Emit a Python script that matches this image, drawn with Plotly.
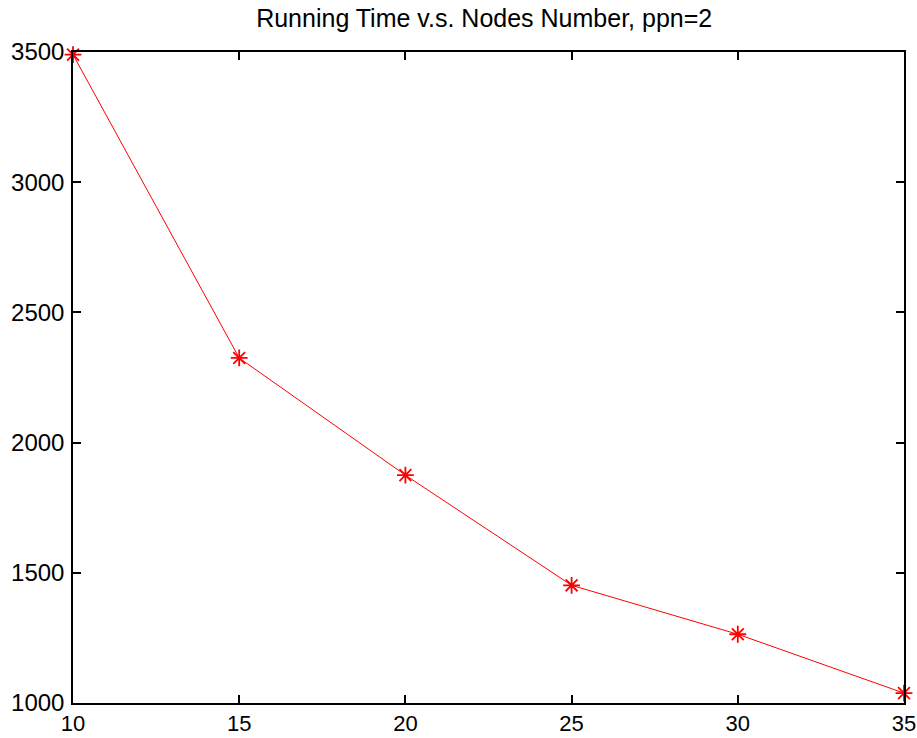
import plotly.graph_objects as go

nodes = [10, 15, 20, 25, 30, 35]
running_time = [3490, 2325, 1875, 1452, 1264, 1038]

x_ticks = [10, 15, 20, 25, 30, 35]
y_ticks = [1000, 1500, 2000, 2500, 3000, 3500]

fig = go.Figure()
fig.add_trace(go.Scatter(
    x=nodes, y=running_time, mode="lines+markers",
    line=dict(color="red", width=1),
    marker=dict(symbol="asterisk-open", size=14, color="red", line=dict(color="red", width=1.8)),
    cliponaxis=False,
))

y_tick_font = dict(family="Liberation Sans, Arial, sans-serif", size=24, color="black")
x_tick_font = dict(family="Liberation Sans, Arial, sans-serif", size=22, color="black")
title_font = dict(family="Liberation Sans, Arial, sans-serif", size=25, color="black")
axis_common = dict(
    showline=True, linecolor="black", linewidth=1.5, mirror="ticks",
    ticks="inside", ticklen=8, tickwidth=1.5, tickcolor="black",
    showgrid=False, zeroline=False, automargin=False,
    ticklabeloverflow="allow",
)
fig.update_layout(
    width=917, height=738,
    margin=dict(l=73, r=13, t=52, b=35),
    paper_bgcolor="white", plot_bgcolor="white",
    showlegend=False,
    title=dict(text="Running Time v.s. Nodes Number, ppn=2", x=0.528, xanchor="center",
               y=0.975, yanchor="middle", font=title_font, automargin=False),
    xaxis=dict(range=[10, 35], tickvals=x_ticks, ticklabelstandoff=0, tickfont=x_tick_font, **axis_common),
    yaxis=dict(range=[1000, 3500], tickvals=y_ticks, ticklabelstandoff=2, tickfont=y_tick_font, **axis_common),
)
fig.write_html("out.html", config={"displayModeBar": False},
               post_script="document.body.style.margin='0';")
